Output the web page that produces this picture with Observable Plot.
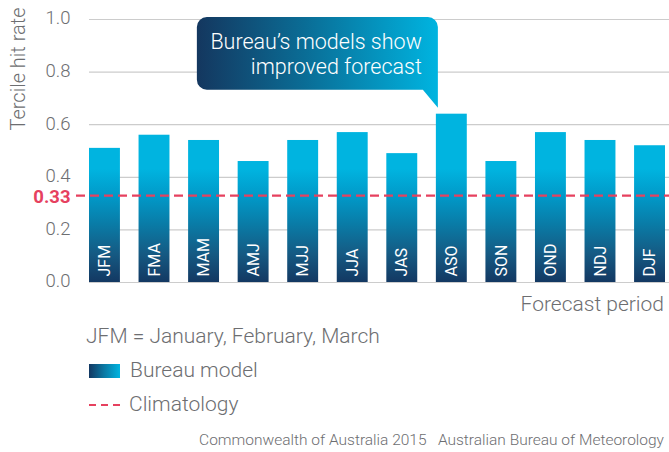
<!DOCTYPE html>
<html>
<head>
<meta charset="utf-8">
<script src="https://cdn.jsdelivr.net/npm/d3@7"></script>
<script src="https://cdn.jsdelivr.net/npm/@observablehq/plot@0.6"></script>
<style>
  body { margin: 0; background: #fff; }
  #wrap { position: relative; width: 669px; height: 452px; overflow: hidden; font-family: Roboto, "Liberation Sans", sans-serif; font-weight: 300; color: #6d6e71; }
  .t { position: absolute; white-space: nowrap; }
</style>
</head>
<body>
<div id="wrap"></div>
<script>
const periods = ["JFM","FMA","MAM","AMJ","MJJ","JJA","JAS","ASO","SON","OND","NDJ","DJF"];
const hitRates = [0.51,0.56,0.54,0.46,0.54,0.57,0.49,0.64,0.46,0.57,0.54,0.52];
const climatology = 0.33;
const yTicks = [0, 0.2, 0.4, 0.6, 0.8, 1.0];
const calloutLines = ["Bureau\u2019s models show", "improved forecast"];
const calloutPeriod = "ASO";

(function () {
const data = periods.map((p, i) => ({period: p, rate: hitRates[i]}));
const font = "Roboto, 'Liberation Sans', sans-serif";
const red = "#e6415f";
const grey = "#6d6e71";

const plot = Plot.plot({
  width: 669,
  height: 290,
  marginTop: 19,
  marginBottom: 8,
  marginLeft: 89,
  marginRight: 4,
  style: {fontFamily: font, fontWeight: 300, fontSize: "19px", color: grey, background: "white", overflow: "visible"},
  x: {domain: periods, paddingInner: 0.376, paddingOuter: 0, round: false, axis: null},
  y: {domain: [0, 1], axis: null},
  marks: [
    Plot.ruleY(yTicks, {stroke: "#cccccc", strokeOpacity: 1, strokeWidth: 1.2, insetRight: -4}),
    Plot.barY(data, {x: "period", y: "rate", fill: "url(#barGrad)"}),
    Plot.text(data, {x: "period", y: 0, text: "period", rotate: -90, textAnchor: "start", lineAnchor: "middle", dy: -6, fill: "white", fontSize: 16, fontWeight: 400}),
    Plot.ruleY([climatology], {stroke: red, strokeWidth: 2.2, strokeDasharray: "9,5", insetLeft: -13, insetRight: -4}),
    Plot.text(yTicks, {frameAnchor: "left", y: d => d, text: d => d.toFixed(1), textAnchor: "end", dx: -19, dy: -1, fill: grey, fontSize: 18.5}),
    Plot.text([climatology], {frameAnchor: "left", y: d => d, text: d => d.toFixed(2), textAnchor: "end", dx: -19, dy: 1, fill: red, fontSize: 18.5, fontWeight: 700}),
    Plot.text(["Tercile hit rate"], {frameAnchor: "top-left", text: d => d, rotate: -90, textAnchor: "end", lineAnchor: "middle", dx: -71, dy: -12, fill: grey, fontSize: 20})
  ]
});

const xs = plot.scale("x"), ys = plot.scale("y");
const svg = d3.select(plot);
const defs = svg.insert("defs", ":first-child");
const y0 = ys.apply(0), yTop = ys.apply(0.43);
const bg = defs.append("linearGradient").attr("id", "barGrad").attr("gradientUnits", "userSpaceOnUse")
  .attr("x1", 0).attr("x2", 0).attr("y1", y0).attr("y2", yTop);
[[0, "#133862"], [0.25, "#155a83"], [0.5, "#0a7aa5"], [0.75, "#0198c7"], [1, "#00b4e0"]]
  .forEach(([o, c]) => bg.append("stop").attr("offset", o).attr("stop-color", c));

// callout anchored to ASO bar
const ci = periods.indexOf(calloutPeriod);
const tipX = xs.apply(calloutPeriod);
const tipY = ys.apply(hitRates[ci]) - 6;
const bRight = tipX + 2, bLeft = bRight - 241, bTop = ys.apply(1) - 2, bBottom = tipY - 18, r = 10;
const cg = defs.append("linearGradient").attr("id", "callGrad").attr("gradientUnits", "userSpaceOnUse")
  .attr("x1", bLeft).attr("x2", bRight).attr("y1", 0).attr("y2", 0);
[[0, "#14375f"], [0.45, "#0a6d96"], [1, "#00b4e0"]]
  .forEach(([o, c]) => cg.append("stop").attr("offset", o).attr("stop-color", c));
const g = svg.append("g");
g.append("path").attr("fill", "url(#callGrad)").attr("d",
  `M${bLeft + r},${bTop} H${bRight - r} A${r},${r} 0 0 1 ${bRight},${bTop + r} V${tipY} L${bRight - 15},${bBottom} H${bLeft + r} A${r},${r} 0 0 1 ${bLeft},${bBottom - r} V${bTop + r} A${r},${r} 0 0 1 ${bLeft + r},${bTop} Z`);
calloutLines.forEach((s, i) => {
  g.append("text").attr("x", bRight - 16).attr("y", bTop + 32 + i * 25).attr("text-anchor", "end")
    .attr("fill", "white").attr("font-size", 21.5).attr("font-weight", 300).attr("font-family", font).text(s);
});

const wrap = document.getElementById("wrap");
wrap.appendChild(plot);
plot.style.position = "absolute"; plot.style.left = "0"; plot.style.top = "0";

const html = `
<div class="t" style="right:5px; top:292px; font-size:21px; line-height:24px;">Forecast period</div>
<div class="t" style="left:86px; top:324px; font-size:21px; line-height:24px;">JFM = January, February, March</div>
<div class="t" style="left:89px; top:364px; width:31px; height:14px; background:linear-gradient(to right,#133862,#0a7aa5,#00b4e0);"></div>
<div class="t" style="left:130px; top:358px; font-size:21px; line-height:24px;">Bureau model</div>
<svg class="t" style="left:89px; top:400px;" width="32" height="10"><line x1="0" x2="32" y1="5" y2="5" stroke="${red}" stroke-width="2.2" stroke-dasharray="7,5"/></svg>
<div class="t" style="left:129px; top:392px; font-size:21px; line-height:24px;">Climatology</div>
<div class="t" style="right:5px; top:431px; font-size:15.5px; line-height:18px;">Commonwealth of Australia 2015&nbsp;&nbsp;&nbsp;Australian Bureau of Meteorology</div>
`;
wrap.insertAdjacentHTML("beforeend", html);
})();
</script>
</body>
</html>
